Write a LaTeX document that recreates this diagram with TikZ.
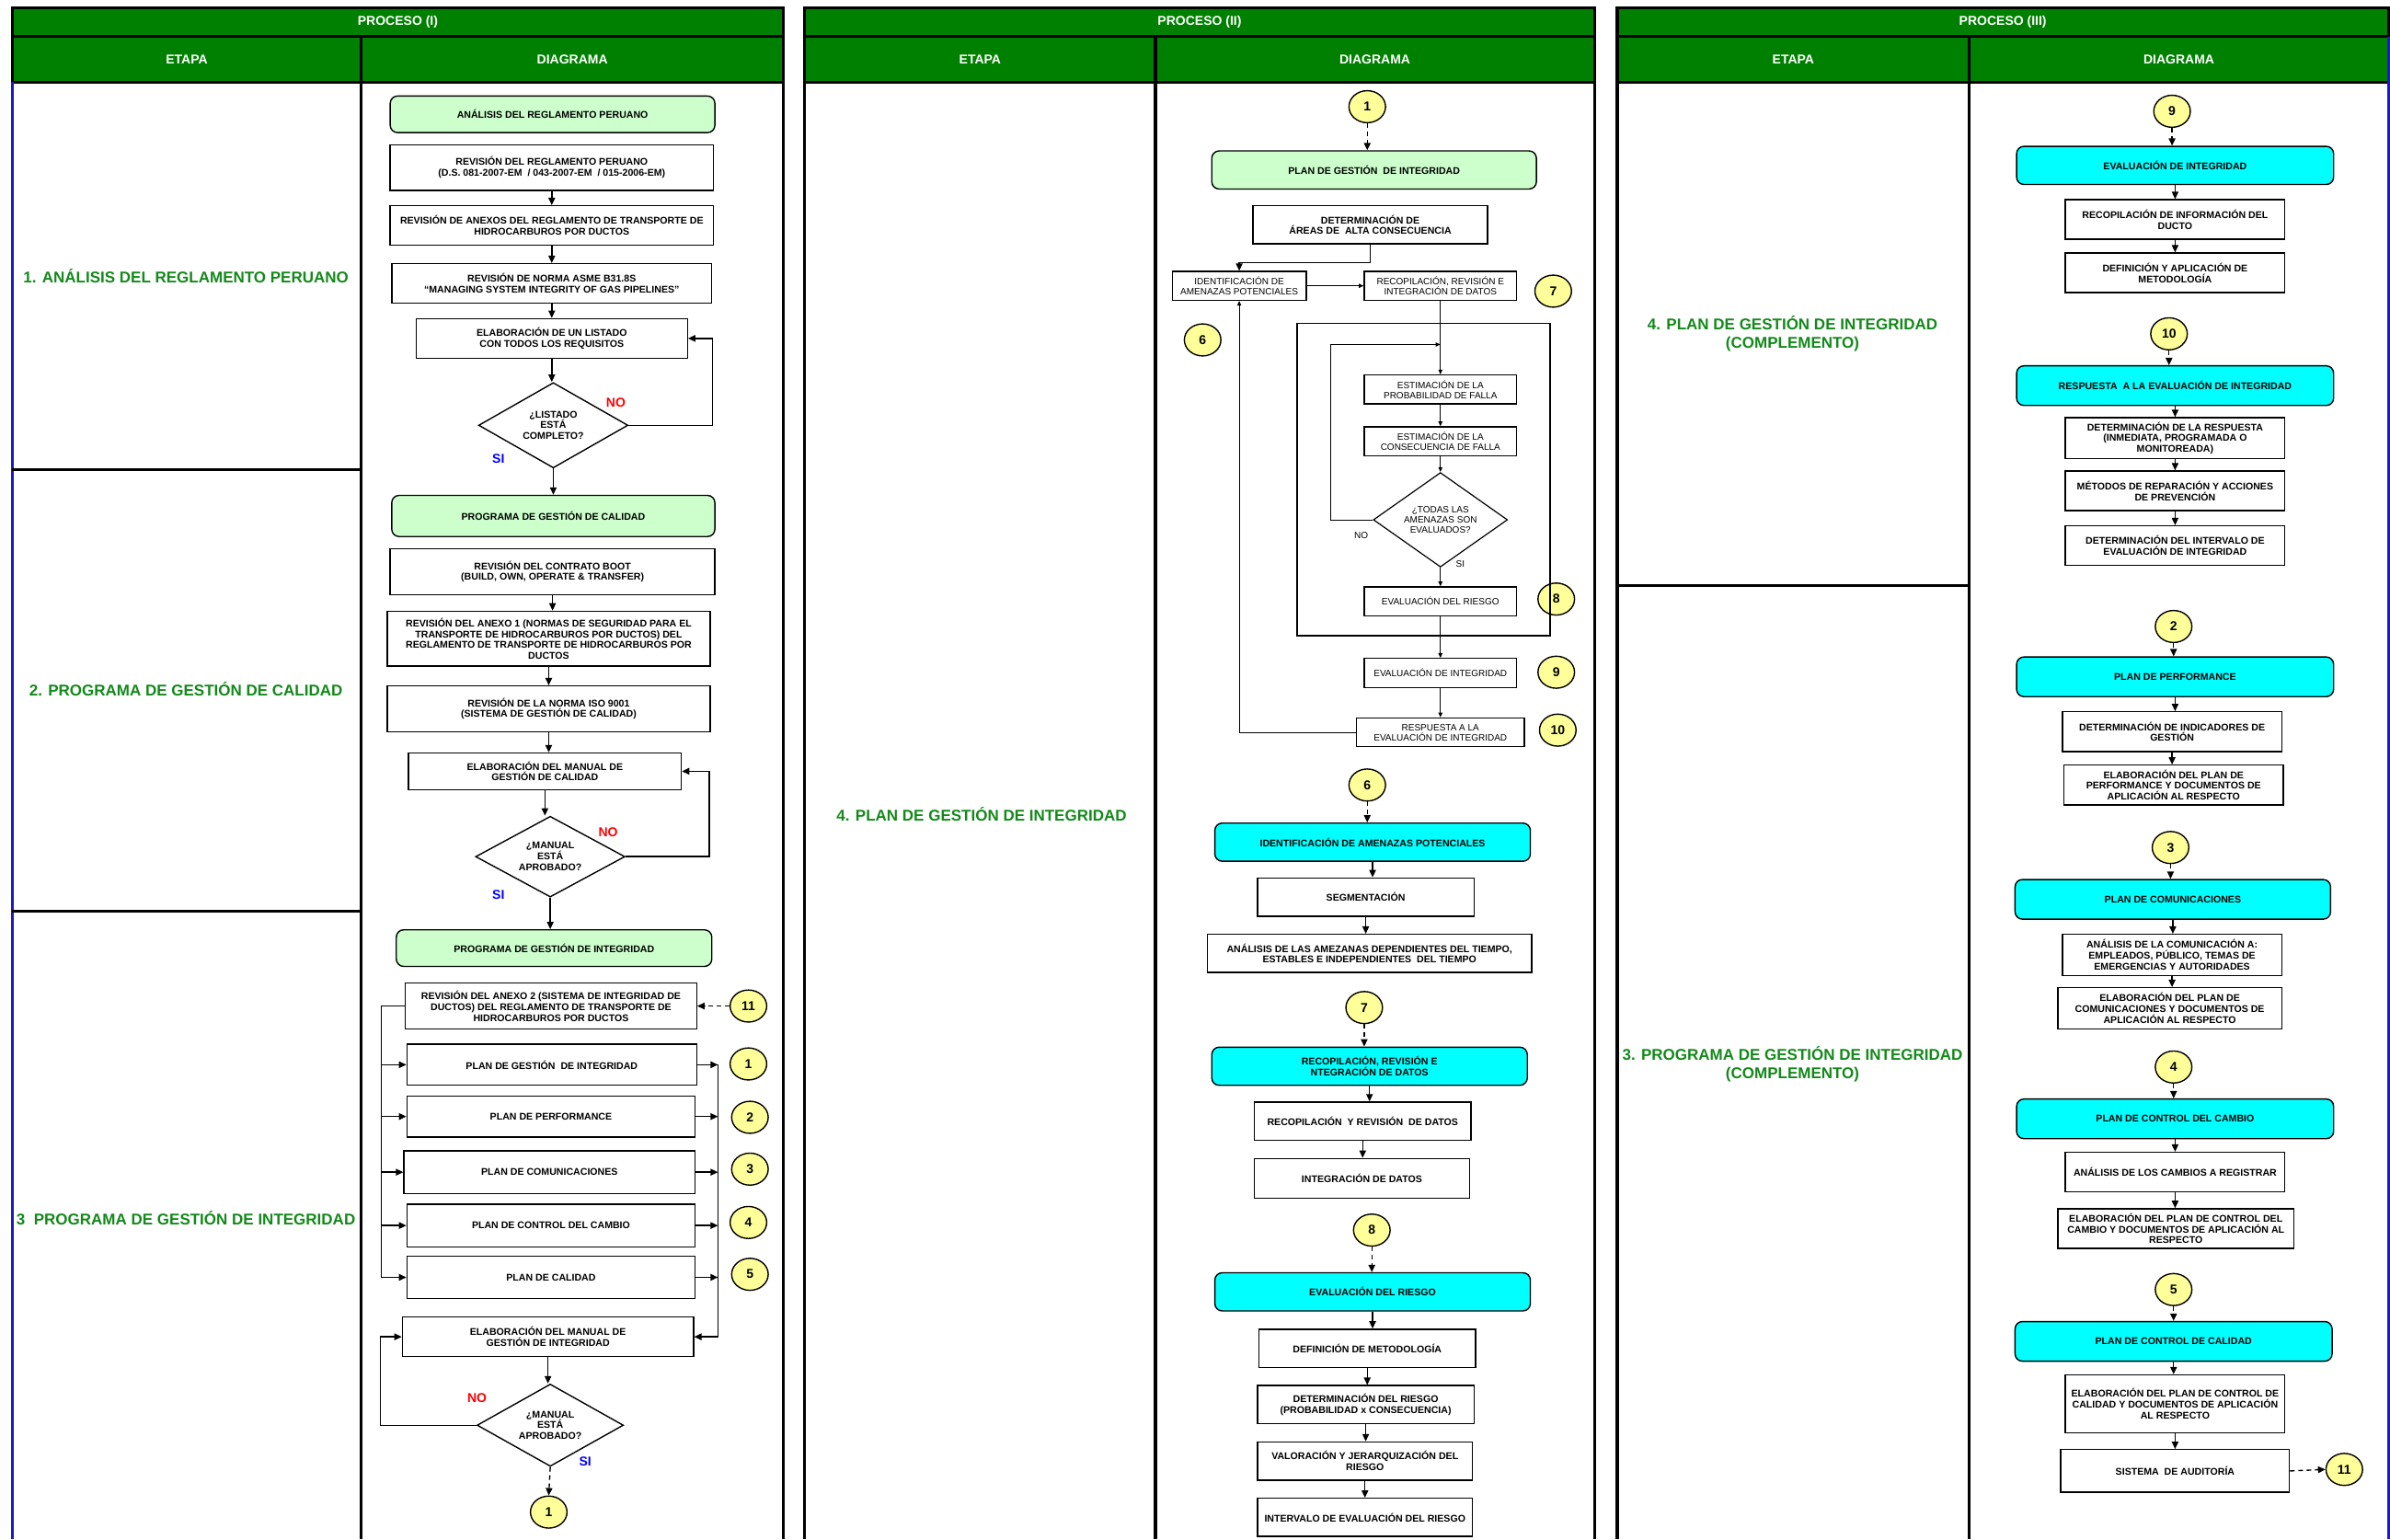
\documentclass[tikz,border=0pt]{standalone}
\usepackage{fontspec}
\setmainfont{Liberation Sans}
\usetikzlibrary{shapes.geometric,arrows.meta}

\definecolor{hdrgreen}{HTML}{008000}
\definecolor{boxgreen}{HTML}{CCFFCC}
\definecolor{boxcyan}{HTML}{00FFFF}
\definecolor{numyellow}{HTML}{FFFF99}
\definecolor{txtgreen}{HTML}{13891A}
\definecolor{edgeblue}{HTML}{1A1ACC}

\tikzset{
  wh/.style 2 args={minimum width=#1*0.8285pt, minimum height=#2*0.8285pt},
  box/.style={draw, line width=0.7pt, fill=white, align=center, inner sep=1pt,
    font=\bfseries\fontsize{5.3}{5.9}\selectfont},
  thinbox/.style={draw, line width=0.6pt, fill=white, align=center, inner sep=1pt,
    font=\fontsize{5}{5.6}\selectfont},
  greenbox/.style={box, fill=boxgreen, rounded corners=4pt},
  cyanbox/.style={box, fill=boxcyan, rounded corners=4pt},
  ask/.style={draw, line width=0.7pt, fill=white, diamond, aspect=1.75, inner sep=0pt, align=center,
    font=\bfseries\fontsize{5.3}{5.9}\selectfont},
  thinask/.style={ask, line width=0.6pt, font=\fontsize{5}{5.6}\selectfont},
  num/.style={draw, line width=0.7pt, ellipse, fill=numyellow, inner sep=0pt,
    minimum width=24*0.8285pt, minimum height=21*0.8285pt, font=\bfseries\fontsize{7}{7}\selectfont},
  arr/.style={-{Triangle[length=4pt,width=3.6pt]}, line width=0.7pt},
  sarr/.style={-{Triangle[length=2.6pt,width=2.2pt]}, line width=0.5pt},
  darr/.style={arr, dashed, dash pattern=on 2.5pt off 2pt},
  frame/.style={line width=1.6pt},
  hdrtxt/.style={text=white, font=\bfseries\fontsize{7}{8}\selectfont},
  etapa/.style={text=txtgreen, align=center, font=\bfseries\fontsize{8.5}{10}\selectfont},
  yes/.style={text=blue, font=\bfseries\fontsize{7}{7}\selectfont},
  no/.style={text=red, font=\bfseries\fontsize{7}{7}\selectfont},
  thinlbl/.style={font=\fontsize{5}{5}\selectfont},
}

\begin{document}
\begin{tikzpicture}[x=0.8285pt, y=-0.8285pt]
\useasboundingbox (0,0) rectangle (1568,1010);
\fill[white] (0,0) rectangle (1568,1010);

% tablas
\foreach \l/\m/\r/\t in {8/237/514/I, 528/758/1046/II, 1061/1292/1567/III}{
  \fill[hdrgreen] (\l,5) rectangle (\r,54);
  \draw[frame] (\l,5) rectangle (\r,24) (\l,24) rectangle (\r,54)
    (\m,24) -- (\m,1010) (\l,54) -- (\l,1010) (\r,54) -- (\r,1010);
  \node[hdrtxt] (tit-\t) at ({(\l+\r)/2},14.5) {PROCESO (\t)};
  \node[hdrtxt] (eta-\t) at ({(\l+\m)/2},39) {ETAPA};
  \node[hdrtxt] (dia-\t) at ({(\m+\r)/2},39) {DIAGRAMA};
}
\draw[frame, edgeblue] (8,54) -- (8,1010) (1567,24) -- (1567,1010);
\draw[frame] (8,308) -- (237,308) (8,598) -- (237,598) (1061,384) -- (1292,384);

% etapas
\node[etapa] (et1) at (122,181) {1. ANÁLISIS DEL REGLAMENTO PERUANO};
\node[etapa] (et2) at (122,452) {2. PROGRAMA DE GESTIÓN DE CALIDAD};
\node[etapa] (et3) at (122,799) {3\ \ PROGRAMA DE GESTIÓN DE INTEGRIDAD};
\node[etapa] (et4) at (644,534) {4. PLAN DE GESTIÓN DE INTEGRIDAD};
\node[etapa] (et5) at (1176,219) {4. PLAN DE GESTIÓN DE INTEGRIDAD\\(COMPLEMENTO)};
\node[etapa] (et6) at (1176,698) {3. PROGRAMA DE GESTIÓN DE INTEGRIDAD\\(COMPLEMENTO)};

% proceso I
\node[greenbox, wh={213}{24}] (a0) at (362.5,75) {ANÁLISIS DEL REGLAMENTO PERUANO};
\node[box, wh={212}{30}] (a1) at (362,110) {REVISIÓN DEL REGLAMENTO PERUANO\\(D.S. 081-2007-EM \ / 043-2007-EM \ / 015-2006-EM)};
\node[box, wh={212}{26}] (a2) at (362,148) {REVISIÓN DE ANEXOS DEL REGLAMENTO DE TRANSPORTE DE\\HIDROCARBUROS POR DUCTOS};
\node[box, wh={210}{26}] (a3) at (362,186) {REVISIÓN DE NORMA ASME B31.8S\\“MANAGING SYSTEM INTEGRITY OF GAS PIPELINES”};
\node[box, wh={178}{26}] (a4) at (362,222) {ELABORACIÓN DE UN LISTADO\\CON TODOS LOS REQUISITOS};
\node[ask, wh={98}{56}] (d1) at (363,279) {¿LISTADO\\ESTÁ\\COMPLETO?};
\node[no] (no1) at (404,264) {NO};
\node[yes] (si1) at (327,301) {SI};

\node[greenbox, wh={212}{27}] (g2) at (363,338.5) {PROGRAMA DE GESTIÓN DE CALIDAD};
\node[box, wh={213}{30}] (b1) at (362.5,375) {REVISIÓN DEL CONTRATO BOOT\\(BUILD, OWN, OPERATE \& TRANSFER)};
\node[box, wh={212}{36}] (b2) at (360,419) {REVISIÓN DEL ANEXO 1 (NORMAS DE SEGURIDAD PARA EL\\TRANSPORTE DE HIDROCARBUROS POR DUCTOS) DEL\\REGLAMENTO DE TRANSPORTE DE HIDROCARBUROS POR\\DUCTOS};
\node[box, wh={212}{30}] (b3) at (360,465) {REVISIÓN DE LA NORMA ISO 9001\\(SISTEMA DE GESTIÓN DE CALIDAD)};
\node[box, wh={179}{24}] (b4) at (357.5,506) {ELABORACIÓN DEL MANUAL DE\\GESTIÓN DE CALIDAD};
\node[ask, wh={98}{53}] (d2) at (361,562) {¿MANUAL\\ESTÁ\\APROBADO?};
\node[no] (no2) at (399,546) {NO};
\node[yes] (si2) at (327,587) {SI};

\node[greenbox, wh={207}{24}] (g3) at (363.5,622) {PROGRAMA DE GESTIÓN DE INTEGRIDAD};
\node[box, wh={191}{30}] (c0) at (361.5,660) {REVISIÓN DEL ANEXO 2 (SISTEMA DE INTEGRIDAD DE\\DUCTOS) DEL REGLAMENTO DE TRANSPORTE DE\\HIDROCARBUROS POR DUCTOS};
\node[box, wh={190}{27}] (c1) at (362,698.5) {PLAN DE GESTIÓN \ DE INTEGRIDAD};
\node[box, wh={189}{27}] (c2) at (361.5,732.5) {PLAN DE PERFORMANCE};
\node[box, wh={191}{28}] (c3) at (360.5,769) {PLAN DE COMUNICACIONES};
\node[box, wh={189}{28}] (c4) at (361.5,804) {PLAN DE CONTROL DEL CAMBIO};
\node[box, wh={189}{28}] (c5) at (361.5,838) {PLAN DE CALIDAD};
\node[box, wh={191}{26}] (c6) at (359.5,877) {ELABORACIÓN DEL MANUAL DE\\GESTIÓN DE INTEGRIDAD};
\node[ask, wh={96}{54}] (d3) at (361,935) {¿MANUAL\\ESTÁ\\APROBADO?};
\node[no] (no3) at (313,917) {NO};
\node[yes] (si3) at (384,959) {SI};
\node[num] (n11) at (491,660) {11};
\node[num] (n1) at (491,698) {1};
\node[num] (n2) at (492,733) {2};
\node[num] (n3) at (492,767) {3};
\node[num] (n4) at (491,802) {4};
\node[num] (n5) at (492,836) {5};
\node[num] (e1) at (360,992) {1};

\foreach \p/\q in {a1/a2, a2/a3, a3/a4, a4/d1, d1/g2, b1/b2, b2/b3, b3/b4, b4/d2, d2/g3, c6/d3}
  \draw[arr] (\p.south) -- (\p.south |- \q.north);
\draw[arr] (d1.east) -- ++(55,0) |- (a4.east);
\draw[arr] (d2.east) -- ++(55,0) |- (b4.east);
\draw[darr] (n11.west) -- (c0.east);
\coordinate (lb) at (250,660);
\coordinate (rb) at (471,698.5);
\draw[line width=0.7pt] (c0.west) -- (lb) -- (lb |- c5.west);
\foreach \k in {1,...,5}{
  \draw[arr] (lb |- c\k.west) -- (c\k.west);
  \draw[arr] (c\k.east) -- (rb |- c\k.east);
}
\draw[arr] (rb) -- (rb |- c6.east) -- (c6.east);
\draw[arr] (d3.west) -- ++(-63,0) |- (c6.west);
\draw[darr] (d3.south) -- (e1.north);

% proceso II
\node[num] (p1) at (897,70) {1};
\node[greenbox, wh={213}{25}] (pg) at (901.5,111.5) {PLAN DE GESTIÓN \ DE INTEGRIDAD};
\node[box, wh={154}{25}] (dt) at (899,147.5) {DETERMINACIÓN DE\\ÁREAS DE \ ALTA CONSECUENCIA};
\node[thinbox, wh={88}{19}] (id) at (813,187.5) {IDENTIFICACIÓN DE\\AMENAZAS POTENCIALES};
\node[thinbox, wh={100}{19}] (rc) at (945,187.5) {RECOPILACIÓN, REVISIÓN E\\INTEGRACIÓN DE DATOS};
\node[thinbox, wh={100}{19}] (ep) at (945,255.5) {ESTIMACIÓN DE LA\\PROBABILIDAD DE FALLA};
\node[thinbox, wh={100}{19}] (ec) at (945,289.5) {ESTIMACIÓN DE LA\\CONSECUENCIA DE FALLA};
\node[thinask, wh={88}{62}] (dd) at (945,341) {¿TODAS LAS\\AMENAZAS SON\\EVALUADOS?};
\node[thinlbl] (no4) at (893,351) {NO};
\node[thinlbl] (si4) at (958,370) {SI};
\node[thinbox, wh={100}{19}] (er) at (945,394.5) {EVALUACIÓN DEL RIESGO};
\node[thinbox, wh={100}{19}] (ei) at (945,441.5) {EVALUACIÓN DE INTEGRIDAD};
\node[thinbox, wh={110}{19}] (ra) at (945,480.5) {RESPUESTA A LA\\EVALUACIÓN DE INTEGRIDAD};
\node[num] (q6) at (789,223) {6};
\node[num] (q7) at (1019,191) {7};
\node[num] (q8) at (1021,393) {8};
\node[num] (q9) at (1021,441) {9};
\node[num] (q10) at (1022,479) {10};
\draw[line width=0.7pt] (851,212) rectangle (1017,417);

\draw[arr] (dt.south) -- ++(0,12) -| (id.north);
\draw[sarr] (id.east) -- (rc.west);
\foreach \p/\q in {rc/ep, ep/ec, ec/dd, dd/er, er/ei, ei/ra}
  \draw[sarr] (\p.south) -- (\p.south |- \q.north);
\coordinate (lpl) at (873,226);
\coordinate (lpin) at (945,226);
\draw[sarr] (dd.west) -| (lpl) -- (lpin);
\draw[sarr] (ra.west) -| (id.south);

\node[num] (o6) at (897,515) {6};
\node[cyanbox, wh={207}{25}] (am) at (900.5,552.5) {IDENTIFICACIÓN DE AMENAZAS POTENCIALES};
\node[box, wh={142}{25}] (am1) at (896,588.5) {SEGMENTACIÓN};
\node[box, wh={213}{25}] (am2) at (898.5,625.5) {ANÁLISIS DE LAS AMEZANAS DEPENDIENTES DEL TIEMPO,\\ESTABLES E INDEPENDIENTES \ DEL TIEMPO};
\node[num] (o7) at (895,661) {7};
\node[cyanbox, wh={207}{25}] (dat) at (898.5,699.5) {RECOPILACIÓN, REVISIÓN E\\NTEGRACIÓN DE DATOS};
\node[box, wh={142}{25}] (dat1) at (894,735.5) {RECOPILACIÓN \ Y REVISIÓN \ DE DATOS};
\node[box, wh={141}{26}] (dat2) at (893.5,773) {INTEGRACIÓN DE DATOS};
\node[num] (o8) at (900,807) {8};
\node[cyanbox, wh={207}{25}] (rg) at (900.5,847.5) {EVALUACIÓN DEL RIESGO};
\node[box, wh={142}{25}] (rg1) at (897,884.5) {DEFINICIÓN DE METODOLOGÍA};
\node[box, wh={142}{25}] (rg2) at (896,921.5) {DETERMINACIÓN DEL RIESGO\\(PROBABILIDAD x CONSECUENCIA)};
\node[box, wh={141}{25}] (rg3) at (895.5,958.5) {VALORACIÓN Y JERARQUIZACIÓN DEL\\RIESGO};
\node[box, wh={141}{25}] (rg4) at (895.5,995.5) {INTERVALO DE EVALUACIÓN DEL RIESGO};

\foreach \p/\q in {p1/pg, o6/am, o7/dat, o8/rg}
  \draw[darr] (\p.south) -- (\p.south |- \q.north);
\foreach \p/\q in {am/am1, am1/am2, dat/dat1, dat1/dat2, rg/rg1, rg1/rg2, rg2/rg3, rg3/rg4}
  \draw[arr] (\p.south) -- (\p.south |- \q.north);

% proceso III
\node[num] (m9) at (1425,73) {9};
\node[cyanbox, wh={208}{25}] (ev) at (1427,108.5) {EVALUACIÓN DE INTEGRIDAD};
\node[box, wh={144}{26}] (ev1) at (1427,144) {RECOPILACIÓN DE INFORMACIÓN DEL\\DUCTO};
\node[box, wh={144}{26}] (ev2) at (1427,179) {DEFINICIÓN Y APLICACIÓN DE\\METODOLOGÍA};
\node[num] (m10) at (1423,219) {10};
\node[cyanbox, wh={208}{26}] (rp) at (1427,253) {RESPUESTA \ A LA EVALUACIÓN DE INTEGRIDAD};
\node[box, wh={144}{27}] (rp1) at (1427,287.5) {DETERMINACIÓN DE LA RESPUESTA\\(INMEDIATA, PROGRAMADA O\\MONITOREADA)};
\node[box, wh={144}{26}] (rp2) at (1427,322) {MÉTODOS DE REPARACIÓN Y ACCIONES\\DE PREVENCIÓN};
\node[box, wh={144}{26}] (rp3) at (1427,358) {DETERMINACIÓN DEL INTERVALO DE\\EVALUACIÓN DE INTEGRIDAD};
\node[num] (m2) at (1426,411) {2};
\node[cyanbox, wh={208}{26}] (pf) at (1427,444) {PLAN DE PERFORMANCE};
\node[box, wh={144}{26}] (pf1) at (1425,480) {DETERMINACIÓN DE INDICADORES DE\\GESTIÓN};
\node[box, wh={144}{26}] (pf2) at (1426,515) {ELABORACIÓN DEL PLAN DE\\PERFORMANCE Y DOCUMENTOS DE\\APLICACIÓN AL RESPECTO};
\node[num] (m3) at (1424,556) {3};
\node[cyanbox, wh={207}{26}] (cm) at (1425.5,590) {PLAN DE COMUNICACIONES};
\node[box, wh={144}{27}] (cm1) at (1425,626.5) {ANÁLISIS DE LA COMUNICACIÓN A:\\EMPLEADOS, PÚBLICO, TEMAS DE\\EMERGENCIAS Y AUTORIDADES};
\node[box, wh={147}{27}] (cm2) at (1423.5,661.5) {ELABORACIÓN DEL PLAN DE\\COMUNICACIONES Y DOCUMENTOS DE\\APLICACIÓN AL RESPECTO};
\node[num] (m4) at (1426,700) {4};
\node[cyanbox, wh={208}{26}] (cc) at (1427,734) {PLAN DE CONTROL DEL CAMBIO};
\node[box, wh={144}{26}] (cc1) at (1427,769) {ANÁLISIS DE LOS CAMBIOS A REGISTRAR};
\node[box, wh={155}{26}] (cc2) at (1427.5,806) {ELABORACIÓN DEL PLAN DE CONTROL DEL\\CAMBIO Y DOCUMENTOS DE APLICACIÓN AL\\RESPECTO};
\node[num] (m5) at (1426,846) {5};
\node[cyanbox, wh={208}{26}] (qc) at (1426,880) {PLAN DE CONTROL DE CALIDAD};
\node[box, wh={144}{38}] (qc1) at (1427,921) {ELABORACIÓN DEL PLAN DE CONTROL DE\\CALIDAD Y DOCUMENTOS DE APLICACIÓN\\AL RESPECTO};
\node[box, wh={150}{28}] (qc2) at (1427,965) {SISTEMA \ DE AUDITORÍA};
\node[num] (m11) at (1538,964) {11};

\foreach \p/\q in {m9/ev, m10/rp, m2/pf, m3/cm, m4/cc, m5/qc}
  \draw[darr] (\p.south) -- (\p.south |- \q.north);
\foreach \p/\q in {ev/ev1, ev1/ev2, rp/rp1, rp1/rp2, rp2/rp3, pf/pf1, pf1/pf2, cm/cm1, cm1/cm2, cc/cc1, cc1/cc2, qc/qc1, qc1/qc2}
  \draw[arr] (\p.south) -- (\p.south |- \q.north);
\draw[darr] (qc2.east) -- (m11.west);
\end{tikzpicture}
\end{document}
